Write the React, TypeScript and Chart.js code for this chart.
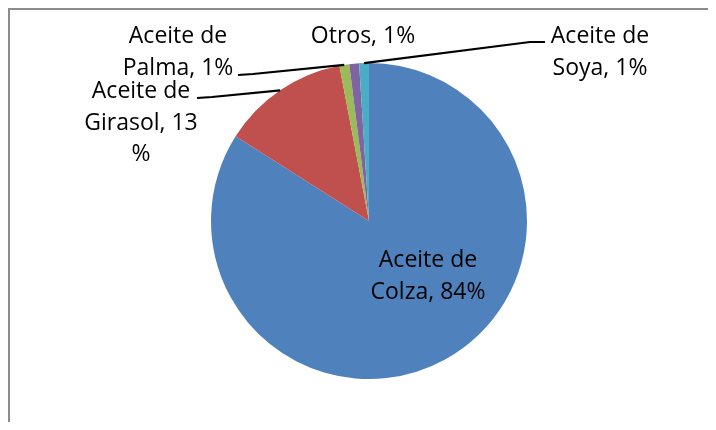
import React, { useEffect, useRef } from "react";
import { Chart, registerables } from "chart.js";

Chart.register(...registerables);

// ---- data ----
const categories = ["Aceite de Colza", "Aceite de Girasol", "Aceite de Palma", "Otros", "Aceite de Soya"];
const values = [84, 13, 1, 1, 1];
const colors = ["#4F81BD", "#C0504D", "#9BBB59", "#8064A2", "#4BACC6"];
// data label text, wrapped the way the reference wraps it
const labelLines = [
  ["Aceite de", "Colza, 84%"],
  ["Aceite de", "Girasol, 13", "%"],
  ["Aceite de", "Palma, 1%"],
  ["Otros, 1%"],
  ["Aceite de", "Soya, 1%"],
];

// ---- label layout (pixels relative to pie centre) ----
const labelAnchor: [number, number][] = [
  [59, 46],
  [-228, -123],
  [-191, -178],
  [-6, -178],
  [231, -178],
];
// leader lines: [stub start, elbow] relative to pie centre; null = none
const leaders: ([number, number][] | null)[] = [
  null,
  [[-172, -123], [-157, -124]],
  [[-131, -146], [-116, -147]],
  null,
  [[176, -179], [161, -179]],
];
const LINE_PITCH = 31.5;
const FONT = '23px "Open Sans"';

const labelPlugin = {
  id: "excelLabels",
  afterDatasetsDraw(chart: any) {
    const ctx = chart.ctx;
    const meta = chart.getDatasetMeta(0);
    const arcs = meta.data;
    if (!arcs.length) return;
    const cx = arcs[0].x;
    const cy = arcs[0].y;
    ctx.save();
    // leader lines
    ctx.strokeStyle = "#000";
    ctx.lineWidth = 2.2;
    ctx.lineJoin = "round";
    arcs.forEach((arc: any, i: number) => {
      const ld = leaders[i];
      if (!ld) return;
      const mid = (arc.startAngle + arc.endAngle) / 2;
      const ex = arc.x + Math.cos(mid) * arc.outerRadius;
      const ey = arc.y + Math.sin(mid) * arc.outerRadius;
      ctx.beginPath();
      ctx.moveTo(cx + ld[0][0], cy + ld[0][1]);
      ctx.lineTo(cx + ld[1][0], cy + ld[1][1]);
      ctx.lineTo(ex, ey);
      ctx.stroke();
    });
    // labels
    ctx.fillStyle = "#000";
    ctx.font = FONT;
    ctx.textAlign = "center";
    ctx.textBaseline = "alphabetic";
    labelLines.forEach((lines, i) => {
      const [dx, dy] = labelAnchor[i];
      lines.forEach((t, j) => {
        ctx.fillText(t, cx + dx, cy + dy + j * LINE_PITCH);
      });
    });
    ctx.restore();
  },
};

export default function App() {
  const ref = useRef<HTMLCanvasElement | null>(null);
  useEffect(() => {
    if (!ref.current) return;
    const chart = new Chart(ref.current, {
      type: "pie",
      data: {
        labels: categories,
        datasets: [
          {
            data: values,
            backgroundColor: colors,
            borderWidth: 0,
            hoverOffset: 0,
            offset: 0,
          },
        ],
      },
      options: {
        responsive: false,
        animation: false,
        events: [],
        layout: { padding: { top: 55, bottom: 43, left: 203, right: 181 } },
        plugins: {
          legend: { display: false },
          tooltip: { enabled: false },
        },
      },
      plugins: [labelPlugin],
    });
    return () => chart.destroy();
  }, []);
  return (
    <div style={{ position: "relative", width: 700, height: 414 }}>
      <div
        style={{
          position: "absolute",
          left: -1,
          top: -1,
          width: 709,
          height: 415,
          boxSizing: "border-box",
          borderLeft: "3px solid #8c8c8c",
          borderTop: "3px solid #8c8c8c",
        }}
      />
      <canvas
        ref={ref}
        width={700}
        height={414}
        style={{ position: "absolute", left: 0, top: 0, width: 700, height: 414 }}
      />
    </div>
  );
}
